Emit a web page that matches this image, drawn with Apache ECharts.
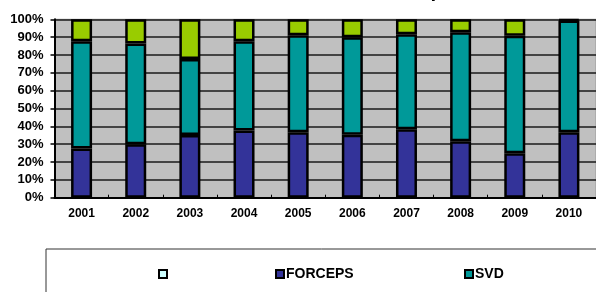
<!DOCTYPE html>
<html>
<head>
<meta charset="utf-8">
<script src="https://cdn.jsdelivr.net/npm/echarts@6/dist/echarts.min.js"></script>
<style>
  html, body { margin: 0; padding: 0; background: #ffffff; }
  #chart { width: 596px; height: 292px; }
</style>
</head>
<body>
<div id="chart"></div>
<script>
const years = ['2001','2002','2003','2004','2005','2006','2007','2008','2009','2010'];
const forceps = [27.6, 29.9, 35.1, 37.6, 36.7, 35.3, 38.3, 31.6, 24.9, 36.7];
const svd     = [60.1, 56.6, 42.6, 50.1, 54.3, 54.7, 53.3, 61.1, 65.9, 62.6];
const other   = [12.3, 13.5, 22.3, 12.3,  9.0, 10.0,  8.4,  7.3,  9.2,  0.7];
const blankSeries = [];
const yTicks = { min: 0, max: 100, interval: 10 };

const chart = echarts.init(document.getElementById('chart'), null, { renderer: 'canvas' });
const FONT = 'Liberation Sans, Arial, sans-serif';
const barBorder = { borderColor: '#000000', borderWidth: 2.5 };
const legendCommon = {
  top: 262, itemWidth: 8, itemHeight: 8, icon: 'rect',
  itemStyle: { borderColor: '#000', borderWidth: 2 },
  textStyle: { color: '#000', fontWeight: 'bold', fontSize: 14, fontFamily: FONT, padding: [0, 0, 0, -3] }
};

const option = {
  animation: false,
  backgroundColor: '#ffffff',
  grid: {
    left: 54.5, top: 19.3, width: 545, height: 178.4,
    show: true, backgroundColor: '#c0c0c0', borderColor: '#9a9a9a', borderWidth: 1
  },
  graphic: [
    { type: 'text', right: 157, top: -13, style: { text: 'Delivery', font: 'bold 14px ' + FONT, fill: '#000' } },
    { type: 'rect', shape: { x: 46, y: 249, width: 600, height: 100 }, style: { fill: 'none', stroke: '#333', lineWidth: 1 } }
  ],
  xAxis: {
    type: 'category', data: years,
    axisLine: { lineStyle: { color: '#000', width: 2 } },
    axisTick: { show: true, inside: true, length: 3, lineStyle: { color: '#000', width: 1 } },
    axisLabel: { color: '#000', fontWeight: 'bold', fontSize: 12, fontFamily: FONT, margin: 10 },
    splitLine: { show: false }
  },
  yAxis: {
    type: 'value', min: yTicks.min, max: yTicks.max, interval: yTicks.interval,
    axisLine: { show: true, lineStyle: { color: '#000', width: 2 } },
    axisTick: { show: true, length: 4, lineStyle: { color: '#000', width: 1.5 } },
    axisLabel: { formatter: '{value}%', color: '#000', fontWeight: 'bold', fontSize: 13, fontFamily: FONT, margin: 11 },
    splitLine: { show: true, lineStyle: { color: '#1a1a1a', width: 1.5 } }
  },
  legend: [
    Object.assign({ data: [' '], left: 153 }, legendCommon),
    Object.assign({ data: ['FORCEPS'], left: 270 }, legendCommon),
    Object.assign({ data: ['SVD'], left: 459 }, legendCommon)
  ],
  series: [
    { name: 'FORCEPS', type: 'bar', stack: 'total', data: forceps, barWidth: 21,
      itemStyle: Object.assign({ color: '#333399' }, barBorder) },
    { name: 'SVD', type: 'bar', stack: 'total', data: svd, barWidth: 21,
      itemStyle: Object.assign({ color: '#009999' }, barBorder) },
    { name: 'Other', type: 'bar', stack: 'total', data: other, barWidth: 21,
      itemStyle: Object.assign({ color: '#99cc00' }, barBorder) },
    { name: ' ', type: 'bar', stack: 'total', data: blankSeries, barWidth: 21,
      itemStyle: Object.assign({ color: '#ccffff' }, barBorder) }
  ]
};
chart.setOption(option);
</script>
</body>
</html>
